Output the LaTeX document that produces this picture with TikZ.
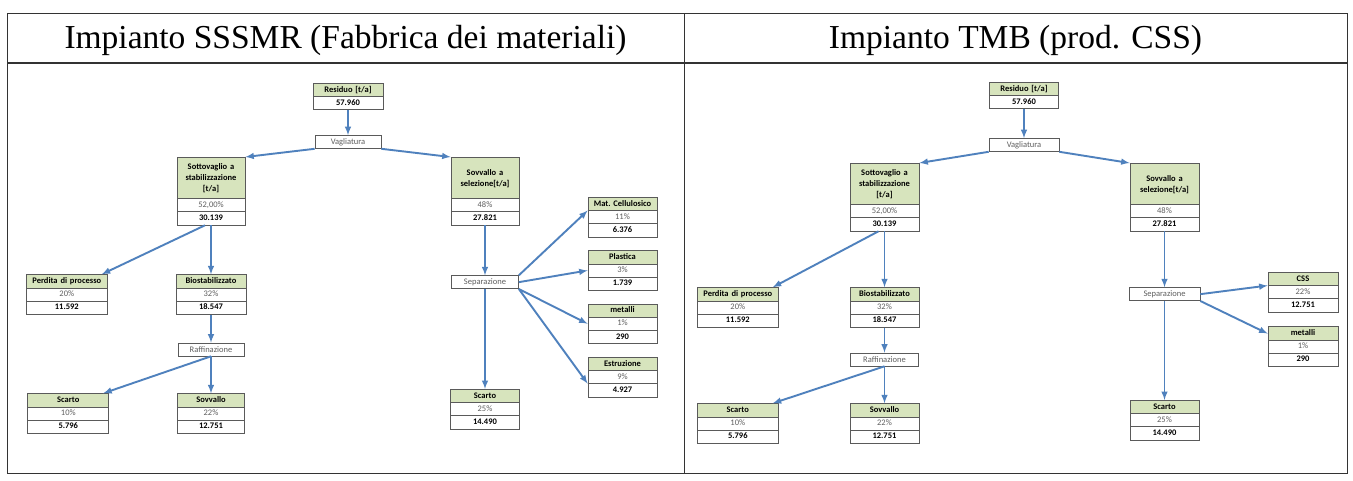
\documentclass[tikz,border=0pt]{standalone}
\usepackage{fontspec}
\setmainfont{Carlito}
\newfontfamily\titlefont{Liberation Serif}
\usepackage{tikz}
\usetikzlibrary{shapes,arrows,positioning}
\definecolor{boxgreen}{RGB}{215,228,189}
\definecolor{boxline}{RGB}{90,90,90}
\definecolor{pctgray}{RGB}{95,95,95}
\definecolor{flowblue}{RGB}{79,129,189}
\newcommand{\boxhead}[1]{\strut\textbf{#1}}
\newcommand{\boxpct}[1]{\strut{\mdseries\color{pctgray}#1}}
\newcommand{\boxval}[1]{\strut\textbf{#1}}
\tikzstyle{data} = [rectangle split, rectangle split parts=3, rectangle split part fill={boxgreen,white,white}, draw=boxline, line width=0.7pt, inner xsep=0pt, inner ysep=0.75pt, align=center, text width=68pt, font=\fontsize{8.5}{11}\selectfont]
\tikzstyle{proc} = [rectangle, draw=boxline, line width=0.7pt, fill=white, inner sep=0pt, minimum height=13pt, text width=66pt, align=center, text=pctgray, font=\fontsize{8.5}{11}\selectfont]
\tikzstyle{tedge}  = [draw=flowblue, line width=1.9pt, >=latex, ->]
\tikzstyle{tabline} = [draw=black!80, line width=1pt]
\tikzstyle{headtext} = [font=\titlefont\fontsize{33.5}{40}\selectfont]

\begin{document}
\begin{tikzpicture}[auto, x=1pt, y=-1pt]

\fill[white] (0,0) rectangle (1353,480);
\useasboundingbox (0,0) rectangle (1353,480);

% table =============================
\draw[tabline] (7,13) rectangle (1347,473);
\draw[tabline] (684,13) -- (684,473);
\draw[tabline, line width=1.6pt] (7,63) -- (1347,63);
\node[headtext] (head1) at (345.5,40) {Impianto SSSMR (Fabbrica dei materiali)};
\node[headtext] (head2) at (1015.5,40) {Impianto TMB (prod. CSS)};

% SSSMR =============================

% input and screening
\node[data, rectangle split parts=2, text width=70pt, anchor=north] (res1) at (348,83) {\boxhead{Residuo [t/a]}\nodepart{two}\boxval{57.960}};
\node[proc, below=25pt of res1] (vag1) {Vagliatura};
\node[data, anchor=north] (sott1) at (211,157) {\bfseries\rule{0pt}{11pt}Sottovaglio a\\stabilizzazione\\{}[t/a]\rule[-6pt]{0pt}{6pt}\nodepart{two}\boxpct{52,00\%}\nodepart{three}\boxval{30.139}};
\node[data, anchor=north] (sovv1) at (485,157) {\bfseries\rule{0pt}{17pt}Sovvallo a\\selezione[t/a]\rule[-11pt]{0pt}{11pt}\nodepart{two}\boxpct{48\%}\nodepart{three}\boxval{27.821}};

% stabilization
\node[data, text width=70pt, below=49pt of sott1] (bios1) {\boxhead{Biostabilizzato}\nodepart{two}\boxpct{32\%}\nodepart{three}\boxval{18.547}};
\node[data, text width=81pt, left=68pt of bios1] (perd1) {\boxhead{Perdita di processo}\nodepart{two}\boxpct{20\%}\nodepart{three}\boxval{11.592}};
\node[proc, below=28pt of bios1] (raff1) {Raffinazione};
\node[data, text width=67pt, below=37pt of raff1] (sovl1) {\boxhead{Sovvallo}\nodepart{two}\boxpct{22\%}\nodepart{three}\boxval{12.751}};
\node[data, text width=81pt, left=68pt of sovl1] (scar1) {\boxhead{Scarto}\nodepart{two}\boxpct{10\%}\nodepart{three}\boxval{5.796}};

% selection
\node[proc, text width=67pt, below=50pt of sovv1] (sep1) {Separazione};
\node[data, text width=69pt, below=100pt of sep1] (scar1b) {\boxhead{Scarto}\nodepart{two}\boxpct{25\%}\nodepart{three}\boxval{14.490}};
\node[data, text width=69pt, anchor=north] (matc) at (622.5,197) {\boxhead{Mat.\ Cellulosico}\nodepart{two}\boxpct{11\%}\nodepart{three}\boxval{6.376}};
\node[data, text width=69pt, below=13pt of matc] (plas) {\boxhead{Plastica}\nodepart{two}\boxpct{3\%}\nodepart{three}\boxval{1.739}};
\node[data, text width=69pt, below=13pt of plas] (meta1) {\boxhead{metalli}\nodepart{two}\boxpct{1\%}\nodepart{three}\boxval{290}};
\node[data, text width=69pt, below=13pt of meta1] (estr) {\boxhead{Estruzione}\nodepart{two}\boxpct{9\%}\nodepart{three}\boxval{4.927}};

% TMB =============================

% input and screening
\node[data, rectangle split parts=2, text width=69pt, anchor=north] (res2) at (1024,82) {\boxhead{Residuo [t/a]}\nodepart{two}\boxval{57.960}};
\node[proc, text width=70pt, below=29pt of res2] (vag2) {Vagliatura};
\node[data, text width=69pt, anchor=north] (sott2) at (884.5,163) {\bfseries\rule{0pt}{11pt}Sottovaglio a\\stabilizzazione\\{}[t/a]\rule[-6pt]{0pt}{6pt}\nodepart{two}\boxpct{52,00\%}\nodepart{three}\boxval{30.139}};
\node[data, text width=69pt, anchor=north] (sovv2) at (1164.5,163) {\bfseries\rule{0pt}{17pt}Sovvallo a\\selezione[t/a]\rule[-11pt]{0pt}{11pt}\nodepart{two}\boxpct{48\%}\nodepart{three}\boxval{27.821}};

% stabilization
\node[data, text width=69pt, below=56pt of sott2] (bios2) {\boxhead{Biostabilizzato}\nodepart{two}\boxpct{32\%}\nodepart{three}\boxval{18.547}};
\node[data, text width=81pt, left=71pt of bios2] (perd2) {\boxhead{Perdita di processo}\nodepart{two}\boxpct{20\%}\nodepart{three}\boxval{11.592}};
\node[proc, text width=68pt, below=25pt of bios2] (raff2) {Raffinazione};
\node[data, text width=69pt, below=37pt of raff2] (sovl2) {\boxhead{Sovvallo}\nodepart{two}\boxpct{22\%}\nodepart{three}\boxval{12.751}};
\node[data, text width=81pt, left=71pt of sovl2] (scar2) {\boxhead{Scarto}\nodepart{two}\boxpct{10\%}\nodepart{three}\boxval{5.796}};

% selection
\node[proc, text width=71pt, below=56pt of sovv2] (sep2) {Separazione};
\node[data, text width=69pt, below=99pt of sep2] (scar2b) {\boxhead{Scarto}\nodepart{two}\boxpct{25\%}\nodepart{three}\boxval{14.490}};
\node[data, text width=70pt, anchor=north] (css) at (1303,272) {\boxhead{CSS}\nodepart{two}\boxpct{22\%}\nodepart{three}\boxval{12.751}};
\node[data, text width=70pt, below=14pt of css] (meta2) {\boxhead{metalli}\nodepart{two}\boxpct{1\%}\nodepart{three}\boxval{290}};

%edges
\path[tedge] (res1.south) -- (vag1.north);
\path[tedge] (vag1.south west) -- (sott1.north east);
\path[tedge] (vag1.south east) -- (sovv1.north west);
\path[tedge] (sott1.south) -- (bios1.north);
\path[tedge] (sott1.260) -- (perd1.30);
\path[tedge] (bios1.south) -- (raff1.north);
\path[tedge] (raff1.south) -- (sovl1.north);
\path[tedge] (raff1.south) -- (scar1.30);
\path[tedge] (sovv1.south) -- (sep1.north);
\path[tedge] (sep1.south) -- (scar1b.north);
\path[tedge] (sep1.north east) -- (matc.text split west);
\path[tedge] (sep1.east) -- (plas.west);
\path[tedge] (sep1.south east) -- (meta1.west);
\path[tedge] (sep1.south east) -- (estr.two split west);

\path[tedge] (res2.south) -- (vag2.north);
\path[tedge] (vag2.south west) -- (sott2.north east);
\path[tedge] (vag2.south east) -- (sovv2.north west);
\path[tedge] (sott2.south) -- (bios2.north);
\path[tedge] (sott2.260) -- (perd2.30);
\path[tedge] (bios2.south) -- (raff2.north);
\path[tedge] (raff2.south) -- (sovl2.north);
\path[tedge] (raff2.south) -- (scar2.30);
\path[tedge] (sovv2.south) -- (sep2.north);
\path[tedge] (sep2.south) -- (scar2b.north);
\path[tedge] (sep2.east) -- (css.text split west);
\path[tedge] (sep2.south east) -- (meta2.160);

\end{tikzpicture}
\end{document}
